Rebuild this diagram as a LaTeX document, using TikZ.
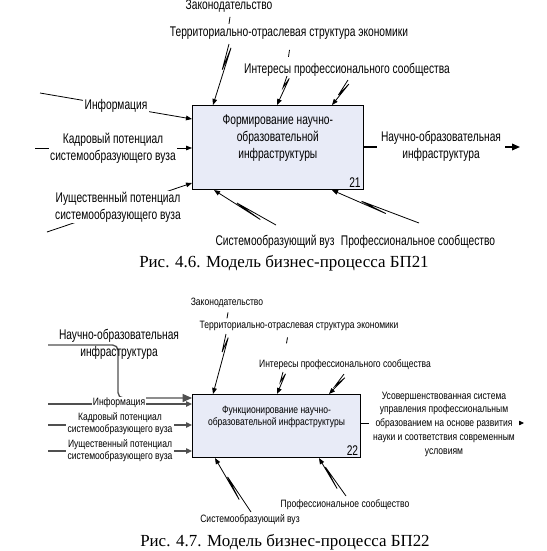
\documentclass[tikz,border=0pt]{standalone}
\usepackage{fontspec}
\setmainfont{Liberation Serif}
\newfontfamily\idefbig[FakeStretch=0.73]{Liberation Sans}
\newfontfamily\idefsmall[FakeStretch=0.80]{Liberation Sans}
\usetikzlibrary{arrows.meta,positioning,calc}
\definecolor{IdefFill}{HTML}{E8EBF7}
\definecolor{IdefGray}{HTML}{505050}
\tikzset{
    % Process box
    procbox/.style={
        draw=black,
        fill=IdefFill,
        line width=0.8pt,
        inner sep=0pt,
        anchor=north west
    },
    % Big labels (BP21)
    lblA/.style={
        font=\idefbig\fontsize{10.5}{12.75}\selectfont,
        align=center,
        inner sep=1pt
    },
    % Small labels (BP22)
    lblB/.style={
        font=\idefsmall\fontsize{8}{9}\selectfont,
        align=center,
        inner sep=1pt
    },
    % Box number
    boxnum/.style={
        font=\idefbig\fontsize{10.5}{12}\selectfont,
        inner sep=2pt
    },
    % Caption
    caption/.style={
        font=\fontsize{12.7}{15}\selectfont,
        inner sep=0pt
    },
    % Arrow
    flow/.style={
        draw=black,
        line width=0.6pt,
        -{Triangle[length=4.5pt,width=3.5pt]}
    },
    % Heavy output arrow
    outflow/.style={
        draw=black,
        line width=1.1pt,
        -{Triangle[length=6pt,width=5pt]}
    },
    % Gray input lines (BP22)
    grayflow/.style={
        draw=IdefGray,
        line width=1pt,
        -{Triangle[length=4.5pt,width=4pt]}
    },
    % Label tick
    tick/.style={
        draw=black,
        line width=0.6pt
    },
    % Squiggle in a connector
    zig/.style 2 args={
        to path={-- ($(\tikztostart)!#1!(\tikztotarget)$)
            -- ($(\tikztostart)!#2!(\tikztotarget)!2.2pt!90:(\tikztotarget)$)
            -- (\tikztotarget)}
    }
}
\begin{document}
\begin{tikzpicture}[x=0.75pt, y=-0.75pt]
    \useasboundingbox (0,0) rectangle (547,551);

    % ===== BP21 =====
    \node[procbox, minimum width=127.9pt, minimum height=63pt] (box1) at (192,105) {};
    \node[lblA, below=6.5pt of box1.north] (box1t) {Формирование научно-\\образовательной\\инфраструктуры};
    \node[boxnum, anchor=south east] (box1n) at (box1.south east) {21};

    % Free ends
    \coordinate (infoAs) at (40,93);
    \coordinate (kadrAs) at (35,148);
    \coordinate (imAs) at (47,232);
    \coordinate (outAe) at (520,147);
    \coordinate (c1As) at (229,44);
    \coordinate (c2As) at (287,76);
    \coordinate (c3As) at (348,80);
    \coordinate (m1As) at (276,225);
    \coordinate (m2As) at (419,223);

    % Arrows
    \draw[flow] (infoAs) -- ($(box1.north west)+(0,14)$);
    \draw[flow] (kadrAs) -- ($(box1.north west)+(0,43)$);
    \draw[flow] (imAs) -- ($(box1.north west)+(0,78)$);
    \draw[outflow] ($(box1.north east)+(0,42)$) -- (outAe);
    \draw[flow] (c1As) to[zig={0.42}{0.05}] ($(box1.north west)+(21,0)$);
    \draw[flow] (c2As) to[zig={0.4}{0.05}] ($(box1.north west)+(85,0)$);
    \draw[flow] (c3As) to[zig={0.6}{0.1}] ($(box1.north west)+(140,0)$);
    \draw[flow] (m1As) to[zig={0.63}{0.23}] ($(box1.south west)+(22,0)$);
    \draw[flow] (m2As) to[zig={0.66}{0.37}] ($(box1.south west)+(140,0)$);

    % Labels
    \node[lblA] (lawA) at (229,6) {Законодательство};
    \node[lblA] (terrA) at (289,33) {Территориально-отраслевая структура экономики};
    \node[lblA] (intA) at (347,70) {Интересы профессионального сообщества};
    \node[lblA, fill=white] (infoA) at (116,106) {Информация};
    \node[lblA, fill=white] (kadrA) at (113,148) {Кадровый потенциал\\системообразующего вуза};
    \node[lblA, fill=white] (imA) at (118,207) {Иущественный потенциал\\системообразующего вуза};
    \node[lblA, fill=white, inner xsep=3pt] (outA) at (441,146) {Научно-образовательная\\инфраструктура};
    \node[lblA] (sysA) at (275,242) {Системообразующий вуз};
    \node[lblA] (profA) at (418,242) {Профессиональное сообщество};
    \draw[tick] ($(lawA.south)+(1,3)$) -- ++(-1,7);
    \draw[tick] ($(terrA.south)+(0.5,9)$) -- ++(-1,7);

    \node[caption] (capA) at (284,263) {Рис. 4.6. Модель бизнес-процесса БП21};

    % ===== BP22 =====
    \node[procbox, minimum width=126pt, minimum height=47.25pt] (box2) at (192,394) {};
    \node[lblB, below=8pt of box2.north] (box2t) {Функционирование научно-\\образовательной инфраструктуры};
    \node[boxnum, anchor=south east] (box2n) at (box2.south east) {22};

    % Free ends
    \coordinate (nioBs) at (48,345);
    \coordinate (infoBs) at (48,404);
    \coordinate (kadrBs) at (48,425);
    \coordinate (imBs) at (48,451);
    \coordinate (outBe) at (524,423);
    \coordinate (c1Bs) at (226,334);
    \coordinate (c2Bs) at (283,372);
    \coordinate (c3Bs) at (344,374);
    \coordinate (m1Bs) at (251,512);
    \coordinate (m2Bs) at (346,496);

    % Arrows
    \draw[grayflow, rounded corners=4pt, -{Triangle[length=7pt,width=6pt]}] (nioBs) -- ++(70,0) |- ($(box2.north west)+(0,4)$);
    \draw[grayflow] (infoBs) -- ($(box2.north west)+(0,10)$);
    \draw[grayflow] (kadrBs) -- ($(box2.north west)+(0,31)$);
    \draw[grayflow] (imBs) -- ($(box2.north west)+(0,57)$);
    \draw[flow, -{Triangle[length=5.5pt,width=5pt]}] ($(box2.north east)+(0,29)$) -- (outBe);
    \draw[flow] (c1Bs) to[zig={0.3}{0.05}] ($(box2.north west)+(21,0)$);
    \draw[flow] (c2Bs) to[zig={0.45}{0.05}] ($(box2.north west)+(85,0)$);
    \draw[flow] (c3Bs) to[zig={0.6}{0.1}] ($(box2.north west)+(137,0)$);
    \draw[flow] (m1Bs) to[zig={0.65}{0.26}] ($(box2.south west)+(23,0)$);
    \draw[flow] (m2Bs) to[zig={0.76}{0.24}] ($(box2.south west)+(127,0)$);

    % Labels
    \node[lblB] (lawB) at (227,303) {Законодательство};
    \node[lblB] (terrB) at (299,326) {Территориально-отраслевая структура экономики};
    \node[lblB] (intB) at (345,365) {Интересы профессионального сообщества};
    \node[lblA] (nioB) at (119,344) {Научно-образовательная\\инфраструктура};
    \node[lblB, fill=white] (infoB) at (119,403) {Информация};
    \node[lblB, fill=white] (kadrB) at (120,424) {Кадровый потенциал\\системообразующего вуза};
    \node[lblB, fill=white] (imB) at (120,451) {Иущественный потенциал\\системообразующего вуза};
    \node[lblB, fill=white, inner xsep=3pt, font=\idefsmall\fontsize{8}{10.3}\selectfont] (outB) at (444,424) {Усовершенствованная система\\управления профессиональным\\образованием на основе развития\\науки и соответствия современным\\условиям};
    \node[lblB] (sysB) at (250,520) {Системообразующий вуз};
    \node[lblB] (profB) at (345,505) {Профессиональное сообщество};
    \draw[tick] ($(lawB.south)+(1,3)$) -- ++(-1,6);
    \draw[tick] ($(terrB.south)+(-11.5,5)$) -- ++(-1,6);

    \node[caption] (capB) at (285,542) {Рис. 4.7. Модель бизнес-процесса БП22};
\end{tikzpicture}
\end{document}
